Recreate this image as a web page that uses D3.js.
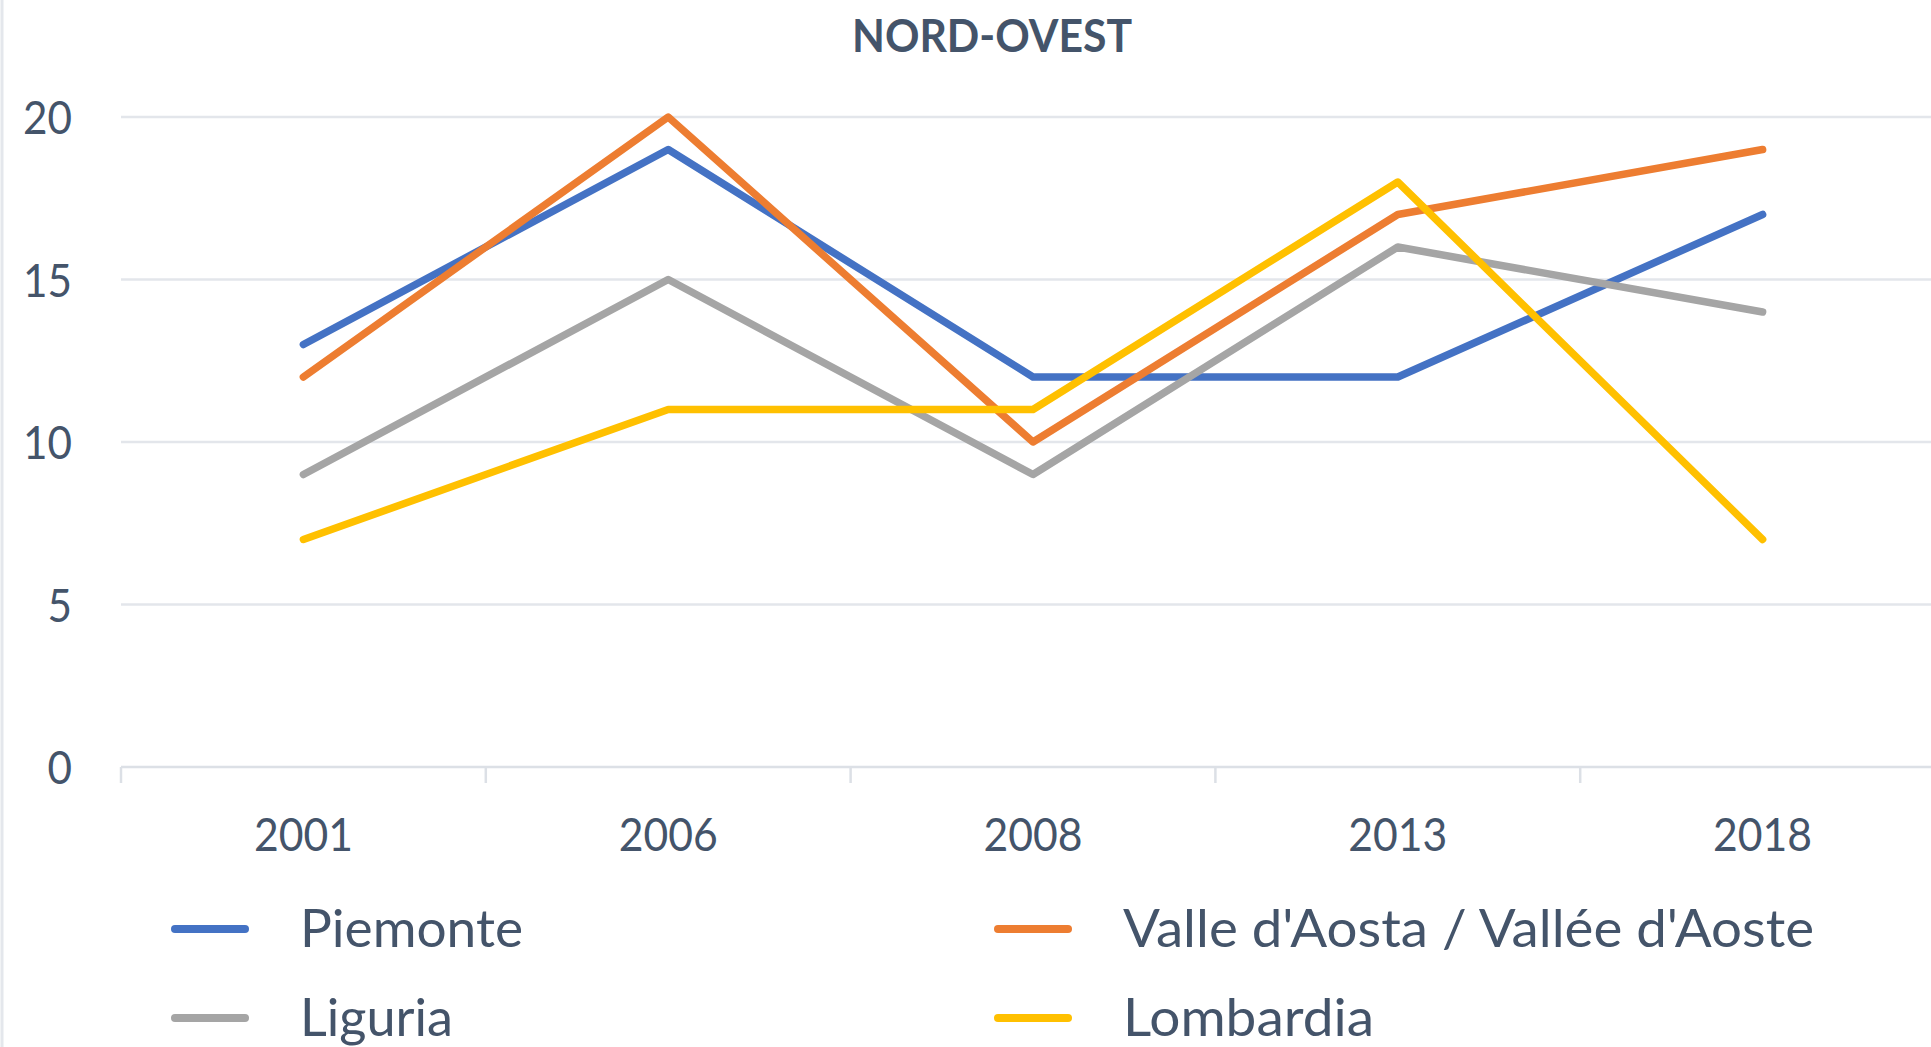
<!DOCTYPE html>
<html>
<head>
<meta charset="utf-8">
<script src="https://cdn.jsdelivr.net/npm/d3@7"></script>
<style>
    html, body { margin: 0; padding: 0; background: #fff; overflow: hidden; }
    svg { display: block; font-family: Lato, "Open Sans", sans-serif; }
</style>
</head>
<body>
<div id="chart"></div>
<script>
// data
const years = ["2001", "2006", "2008", "2013", "2018"];
const piemonte = [13, 19, 12, 12, 17];
const valleAosta = [12, 20, 10, 17, 19];
const liguria = [9, 15, 9, 16, 14];
const lombardia = [7, 11, 11, 18, 7];
const seriesNames = ["Piemonte", "Valle d'Aosta / Vallée d'Aoste", "Liguria", "Lombardia"];
const seriesColors = ["#4472C4", "#ED7D31", "#A5A5A5", "#FFC000"];
const yTicks = [0, 5, 10, 15, 20];
const chartTitle = "NORD-OVEST";

const width = 1931, height = 1047;
const textColor = "#44546A";
const gridColor = "#E3E6EB";

const svg = d3.select("#chart").append("svg")
    .attr("width", width)
    .attr("height", height);

// plot area (the right end runs past the picture edge, as in the reference)
const plot = { left: 121, right: 1945, top: 117, bottom: 767 };

const x = d3.scaleBand().domain(years).range([plot.left, plot.right]).padding(0);
const y = d3.scaleLinear().domain([0, 20]).range([plot.bottom, plot.top]);

// faint frame edge on the left
svg.append("line")
    .attr("x1", 2).attr("x2", 2)
    .attr("y1", 0).attr("y2", height)
    .attr("stroke", "#E4E7EC").attr("stroke-width", 3);

// title
svg.append("text")
    .attr("x", 992).attr("y", 52)
    .attr("text-anchor", "middle")
    .attr("font-size", 45).attr("font-weight", 700)
    .attr("fill", textColor)
    .attr("textLength", 280).attr("lengthAdjust", "spacingAndGlyphs")
    .text(chartTitle);

// horizontal gridlines
svg.append("g").selectAll("line")
    .data(yTicks.filter(d => d > 0))
    .join("line")
    .attr("x1", plot.left).attr("x2", plot.right)
    .attr("y1", d => y(d)).attr("y2", d => y(d))
    .attr("stroke", gridColor).attr("stroke-width", 2.5);

// y axis labels
const yAxis = svg.append("g")
    .attr("transform", `translate(${plot.left},0)`)
    .call(d3.axisLeft(y).tickValues(yTicks).tickSize(0).tickPadding(49));
yAxis.select(".domain").remove();
yAxis.selectAll("text")
    .attr("font-family", "Lato, 'Open Sans', sans-serif")
    .attr("font-size", 47)
    .attr("fill", textColor)
    .attr("dy", "0.36em")
    .attr("textLength", d => String(d).length * 24.5)
    .attr("lengthAdjust", "spacingAndGlyphs");

// x axis: line with ticks at band edges
const xg = svg.append("g");
xg.append("line")
    .attr("x1", plot.left).attr("x2", plot.right)
    .attr("y1", plot.bottom).attr("y2", plot.bottom)
    .attr("stroke", "#DCE0E6").attr("stroke-width", 2.5);
xg.selectAll(".tick-mark")
    .data(years.concat(["end"]))
    .join("line")
    .attr("class", "tick-mark")
    .attr("x1", (d, i) => plot.left + i * x.step())
    .attr("x2", (d, i) => plot.left + i * x.step())
    .attr("y1", plot.bottom).attr("y2", plot.bottom + 16)
    .attr("stroke", "#DCE0E6").attr("stroke-width", 2.5);
xg.selectAll(".year")
    .data(years)
    .join("text")
    .attr("class", "year")
    .attr("x", d => x(d) + x.bandwidth() / 2)
    .attr("y", 851)
    .attr("text-anchor", "middle")
    .attr("font-size", 47)
    .attr("fill", textColor)
    .attr("textLength", 99).attr("lengthAdjust", "spacingAndGlyphs")
    .text(d => d);

// series lines
const allSeries = [piemonte, valleAosta, liguria, lombardia];
const line = d3.line()
    .x((d, i) => x(years[i]) + x.bandwidth() / 2)
    .y(d => y(d));

svg.append("g").selectAll("path")
    .data(allSeries)
    .join("path")
    .attr("d", line)
    .attr("fill", "none")
    .attr("stroke", (d, i) => seriesColors[i])
    .attr("stroke-width", 7.5)
    .attr("stroke-linecap", "round")
    .attr("stroke-linejoin", "round");

// legend, two columns
const legendCols = [175, 998];
const legendRows = [929, 1018];
const legendWidths = [223, 691, 153, 251];

const legend = svg.append("g").selectAll("g")
    .data(seriesNames)
    .join("g")
    .attr("transform", (d, i) => `translate(${legendCols[i % 2]},${legendRows[Math.floor(i / 2)]})`);

legend.append("line")
    .attr("x1", 0).attr("x2", 70)
    .attr("y1", 0).attr("y2", 0)
    .attr("stroke", (d, i) => seriesColors[i])
    .attr("stroke-width", 8)
    .attr("stroke-linecap", "round");

legend.append("text")
    .attr("x", 125)
    .attr("y", 18)
    .attr("font-size", 52)
    .attr("fill", textColor)
    .attr("textLength", (d, i) => legendWidths[i])
    .attr("lengthAdjust", "spacingAndGlyphs")
    .text(d => d);
</script>
</body>
</html>
